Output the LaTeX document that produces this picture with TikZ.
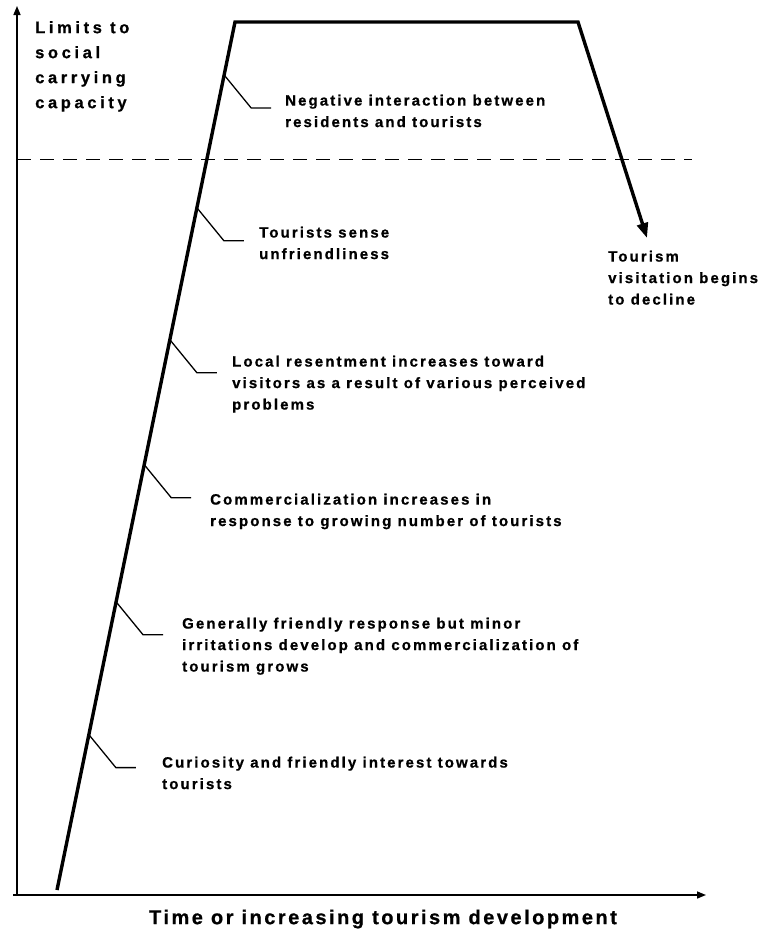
\documentclass[tikz,border=0pt]{standalone}
\usepackage{fontspec}
\setmainfont{Liberation Sans}
\newfontfamily\labfont[LetterSpace=14,FakeBold=0.8]{Liberation Sans Bold}
\newfontfamily\titfont[LetterSpace=22,FakeBold=0.8]{Liberation Sans Bold}
\newfontfamily\botfont[LetterSpace=12.5,FakeBold=0.8]{Liberation Sans Bold}
\usetikzlibrary{arrows.meta,calc}
\tikzset{
  axis/.style={line width=1.5pt,-{Triangle[length=9pt,width=7pt]}},
  curve/.style={line width=3.4pt,line join=miter,-{Triangle[length=15pt,width=11pt]}},
  limit/.style={line width=0.9pt,dash pattern=on 14pt off 9pt},
  tick/.style={line width=1.3pt},
  lab/.style={anchor=north west,inner sep=0pt,align=left,font=\labfont\fontsize{15}{21.5}\selectfont},
  tit/.style={anchor=north west,inner sep=0pt,align=left,font=\titfont\fontsize{16.5}{25}\selectfont},
  bot/.style={inner sep=0pt,font=\botfont\fontsize{20}{24}\selectfont}
}
\begin{document}
\begin{tikzpicture}[x=1pt,y=-1pt]
\useasboundingbox (0,0) rectangle (763,945);
% axes
\coordinate (O) at (17,895);
\coordinate (Ytop) at (17,6);
\coordinate (Xend) at (706,895);
\coordinate (Ostart) at (13,895);
\draw[axis] (O) -- (Ytop);
\draw[axis] (Ostart) -- (Xend);
% limit line
\coordinate (dL) at (17,159);
\coordinate (dR) at (692,159);
\draw[limit] (dL) -- (dR);
% curve
\coordinate (s) at (57,890);
\coordinate (p1) at (235,22);
\coordinate (p2) at (578,22);
\coordinate (tip) at (647,238);
\draw[curve] (s) -- (p1) -- (p2) -- (tip);
% ticks
\foreach \i/\t in {1/0.939,2/0.786,3/0.634,4/0.490,5/0.332,6/0.179}{
  \coordinate (k\i) at ($(s)!\t!(p1)$);
  \coordinate (b\i) at ($(k\i)+(27,33)$);
  \coordinate (e\i) at ($(b\i)+(20,0)$);
  \draw[tick] (k\i) -- (b\i) -- (e\i);
}
% labels
\node[tit] (title) at (35,21) {Limits to\\social\\carrying\\capacity};
\node[lab] (L1) at (285,94.5) {Negative interaction between\\residents and tourists};
\node[lab] (L2) at (259,226.5) {Tourists sense\\unfriendliness};
\node[lab] (L3) at (232,355.5) {Local resentment increases toward\\visitors as a result of various perceived\\problems};
\node[lab] (L4) at (210,493.5) {Commercialization increases in\\response to growing number of tourists};
\node[lab] (L5) at (182,617.5) {Generally friendly response but minor\\irritations develop and commercialization of\\tourism grows};
\node[lab] (L6) at (162,756.5) {Curiosity and friendly interest towards\\tourists};
\node[lab] (L7) at (608,250.5) {Tourism\\visitation begins\\to decline};
\node[bot] (xlabel) at (383,919) {Time or increasing tourism development};
\end{tikzpicture}
\end{document}
